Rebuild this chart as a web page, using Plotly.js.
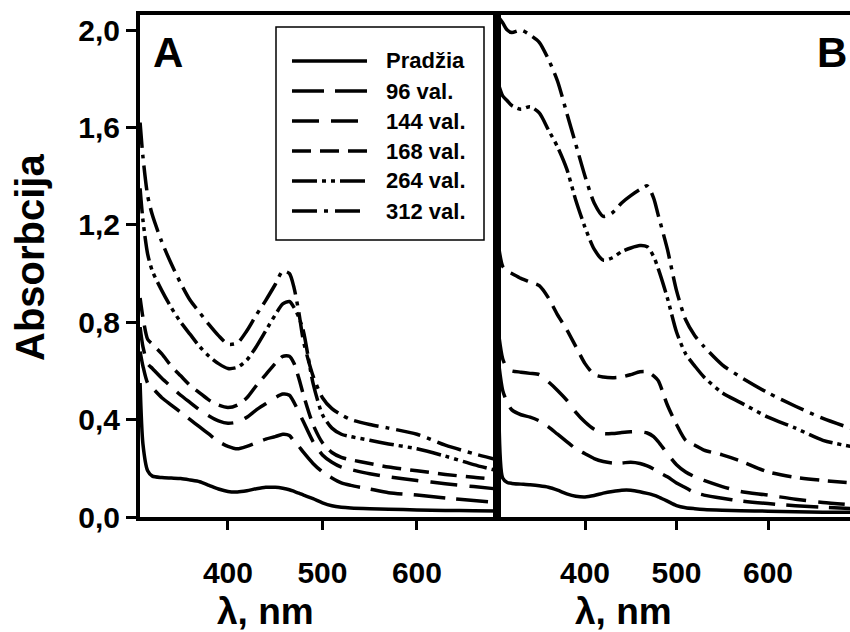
<!DOCTYPE html>
<html>
<head>
<meta charset="utf-8">
<script src="https://cdn.plot.ly/plotly-3.0.1.min.js"></script>
<style>html,body{margin:0;padding:0;background:#fff;}#chart{width:850px;height:632px;}</style>
</head>
<body>
<div id="chart"></div>
<script>
// ---- Data ----
var seriesNames = ["Pradžia", "96 val.", "144 val.", "168 val.", "264 val.", "312 val."];

// Panel A
var wlA = [307, 310, 315, 320, 330, 340, 350, 360, 370, 380, 390, 400, 410, 420, 430, 440, 450, 458, 465, 470, 475, 480, 490, 500, 510, 520, 530, 550, 570, 600, 630, 660, 685];
var pradziaA = [0.55, 0.30, 0.19, 0.168, 0.162, 0.16, 0.158, 0.152, 0.145, 0.13, 0.115, 0.105, 0.103, 0.108, 0.116, 0.122, 0.122, 0.118, 0.112, 0.105, 0.098, 0.09, 0.075, 0.058, 0.046, 0.04, 0.037, 0.034, 0.032, 0.029, 0.027, 0.026, 0.025];
var v96A = [0.68, 0.62, 0.55, 0.53, 0.49, 0.46, 0.43, 0.40, 0.37, 0.34, 0.31, 0.29, 0.28, 0.29, 0.305, 0.32, 0.33, 0.34, 0.335, 0.31, 0.29, 0.265, 0.22, 0.185, 0.16, 0.14, 0.13, 0.115, 0.10, 0.09, 0.078, 0.068, 0.06];
var v144A = [0.78, 0.70, 0.63, 0.61, 0.57, 0.535, 0.50, 0.47, 0.44, 0.415, 0.395, 0.385, 0.39, 0.41, 0.44, 0.465, 0.49, 0.505, 0.50, 0.47, 0.43, 0.39, 0.31, 0.255, 0.225, 0.205, 0.195, 0.178, 0.165, 0.15, 0.137, 0.125, 0.115];
var v168A = [0.90, 0.82, 0.73, 0.71, 0.67, 0.62, 0.58, 0.54, 0.51, 0.48, 0.46, 0.45, 0.46, 0.49, 0.54, 0.585, 0.63, 0.66, 0.66, 0.63, 0.57, 0.50, 0.38, 0.305, 0.265, 0.245, 0.235, 0.22, 0.205, 0.19, 0.175, 0.163, 0.155];
var v264A = [1.35, 1.22, 1.08, 1.01, 0.93, 0.86, 0.80, 0.75, 0.70, 0.66, 0.63, 0.61, 0.615, 0.645, 0.70, 0.765, 0.83, 0.875, 0.885, 0.86, 0.82, 0.76, 0.55, 0.42, 0.365, 0.34, 0.33, 0.315, 0.30, 0.28, 0.25, 0.215, 0.19];
var v312A = [1.62, 1.48, 1.32, 1.24, 1.13, 1.04, 0.96, 0.89, 0.84, 0.79, 0.745, 0.71, 0.715, 0.765, 0.83, 0.89, 0.955, 1.01, 1.00, 0.94, 0.84, 0.72, 0.58, 0.49, 0.445, 0.42, 0.40, 0.38, 0.365, 0.34, 0.295, 0.26, 0.235];

// Panel B
var wlB = [306, 310, 315, 320, 330, 340, 350, 360, 370, 380, 390, 400, 410, 420, 430, 440, 450, 460, 468, 475, 480, 490, 500, 510, 520, 530, 550, 570, 600, 630, 660, 690];
var pradziaB = [0.40, 0.16, 0.142, 0.138, 0.135, 0.132, 0.128, 0.122, 0.11, 0.095, 0.085, 0.082, 0.088, 0.098, 0.105, 0.11, 0.11, 0.104, 0.097, 0.09, 0.083, 0.065, 0.047, 0.038, 0.034, 0.031, 0.028, 0.026, 0.024, 0.022, 0.02, 0.02];
var v96B = [0.62, 0.52, 0.47, 0.44, 0.42, 0.41, 0.395, 0.37, 0.34, 0.31, 0.28, 0.26, 0.24, 0.228, 0.222, 0.222, 0.225, 0.22, 0.21, 0.197, 0.185, 0.165, 0.14, 0.12, 0.10, 0.09, 0.077, 0.066, 0.055, 0.046, 0.04, 0.035];
var v144B = [0.74, 0.65, 0.61, 0.60, 0.595, 0.59, 0.585, 0.555, 0.52, 0.48, 0.43, 0.39, 0.36, 0.343, 0.343, 0.347, 0.35, 0.35, 0.345, 0.33, 0.31, 0.26, 0.215, 0.185, 0.165, 0.15, 0.125, 0.105, 0.09, 0.073, 0.06, 0.05];
var v168B = [1.10, 1.03, 1.01, 1.00, 0.98, 0.965, 0.95, 0.90, 0.83, 0.77, 0.70, 0.63, 0.585, 0.575, 0.572, 0.575, 0.585, 0.597, 0.597, 0.58, 0.56, 0.46, 0.38, 0.315, 0.295, 0.275, 0.255, 0.23, 0.185, 0.163, 0.15, 0.14];
var v264B = [1.77, 1.73, 1.71, 1.69, 1.675, 1.685, 1.66, 1.59, 1.52, 1.43, 1.30, 1.19, 1.10, 1.055, 1.065, 1.09, 1.105, 1.115, 1.11, 1.07, 1.02, 0.90, 0.76, 0.67, 0.62, 0.575, 0.51, 0.47, 0.41, 0.365, 0.315, 0.29];
var v312B = [2.05, 2.03, 2.00, 1.99, 2.00, 1.98, 1.95, 1.88, 1.79, 1.66, 1.53, 1.40, 1.29, 1.235, 1.25, 1.29, 1.32, 1.345, 1.36, 1.31, 1.24, 1.10, 0.93, 0.81, 0.745, 0.70, 0.625, 0.575, 0.51, 0.455, 0.405, 0.365];

var yTickVals = [0, 0.4, 0.8, 1.2, 1.6, 2.0];
var yTickText = ["0,0", "0,4", "0,8", "1,2", "1,6", "2,0"];
var xTickVals = [400, 500, 600];
var xTickText = ["400", "500", "600"];

// ---- Styles ----
var dashes = ["solid", "32px,11px", "27px,12px", "19px,9px", "25px,5px,4px,5px,4px,5px", "25px,7px,4px,7px"];
var seriesA = [pradziaA, v96A, v144A, v168A, v264A, v312A];
var seriesB = [pradziaB, v96B, v144B, v168B, v264B, v312B];

var W = 850, H = 632;
function px(x) { return x / W; }
function py(y) { return (H - y) / H; }

var traces = [];
for (var i = 0; i < seriesNames.length; i++) {
  traces.push({
    x: wlA, y: seriesA[i], type: 'scatter', mode: 'lines', name: seriesNames[i],
    xaxis: 'x', yaxis: 'y', showlegend: false,
    line: {color: '#000', width: 3.5, dash: dashes[i], shape: 'spline', smoothing: 0.7}
  });
  traces.push({
    x: wlB, y: seriesB[i], type: 'scatter', mode: 'lines', name: seriesNames[i],
    xaxis: 'x2', yaxis: 'y2', showlegend: false,
    line: {color: '#000', width: 3.5, dash: dashes[i], shape: 'spline', smoothing: 0.7}
  });
}

var fontFam = 'Liberation Sans, Arial, sans-serif';
var tickFont = {family: fontFam, size: 30, color: '#000', weight: 'bold'};

var xDomA = [px(140), px(497)];
var xDomB = [px(497), 1];
var yDom = [py(517), py(15)];

var shapes = [];
var annotations = [];
// custom legend box
shapes.push({type: 'rect', xref: 'paper', yref: 'paper', x0: px(276), x1: px(484), y0: py(240), y1: py(27),
  line: {color: '#000', width: 1.5}, fillcolor: 'rgba(0,0,0,0)'});
var legendSampleLen = [75, 75, 66, 75, 73, 68];
for (var k = 0; k < seriesNames.length; k++) {
  var yy = 61 + 30 * k;
  shapes.push({type: 'line', xref: 'paper', yref: 'paper', x0: px(292), x1: px(292 + legendSampleLen[k]), y0: py(yy), y1: py(yy),
    line: {color: '#000', width: 3.5, dash: dashes[k]}});
  annotations.push({xref: 'paper', yref: 'paper', x: px(384), y: py(yy), xanchor: 'left', yanchor: 'middle',
    text: seriesNames[k], showarrow: false, font: {family: fontFam, size: 22, color: '#000', weight: 'bold'}});
}
// titles & panel labels
annotations.push({xref: 'paper', yref: 'paper', x: px(30), y: py(258), text: 'Absorbcija', textangle: -90,
  showarrow: false, xanchor: 'center', yanchor: 'middle', font: {family: fontFam, size: 40, color: '#000', weight: 'bold'}});
annotations.push({xref: 'paper', yref: 'paper', x: px(265), y: py(611), text: 'λ, nm',
  showarrow: false, xanchor: 'center', yanchor: 'middle', font: {family: fontFam, size: 37, color: '#000', weight: 'bold'}});
annotations.push({xref: 'paper', yref: 'paper', x: px(623), y: py(611), text: 'λ, nm',
  showarrow: false, xanchor: 'center', yanchor: 'middle', font: {family: fontFam, size: 37, color: '#000', weight: 'bold'}});
annotations.push({xref: 'paper', yref: 'paper', x: px(168), y: py(52), text: 'A',
  showarrow: false, xanchor: 'center', yanchor: 'middle', font: {family: fontFam, size: 42, color: '#000', weight: 'bold'}});
annotations.push({xref: 'paper', yref: 'paper', x: px(832), y: py(52), text: 'B',
  showarrow: false, xanchor: 'center', yanchor: 'middle', font: {family: fontFam, size: 42, color: '#000', weight: 'bold'}});

var layout = {
  width: W, height: H,
  margin: {l: 0, r: 0, t: 0, b: 0},
  paper_bgcolor: '#fff', plot_bgcolor: '#fff',
  showlegend: false,
  xaxis: {domain: xDomA, range: [306.9, 684.7], anchor: 'y', showline: true, linewidth: 4, linecolor: '#000', mirror: true,
    ticks: 'outside', ticklen: 9, tickwidth: 3, tickcolor: '#000', tickvals: xTickVals, ticktext: xTickText,
    tickfont: tickFont, ticklabelstandoff: 17, showgrid: false, zeroline: false, fixedrange: true},
  yaxis: {domain: yDom, range: [0, 2.062], anchor: 'x', showline: true, linewidth: 4, linecolor: '#000', mirror: true,
    ticks: 'outside', ticklen: 10, tickwidth: 3, tickcolor: '#000', tickvals: yTickVals, ticktext: yTickText,
    tickfont: tickFont, ticklabelstandoff: 0, showgrid: false, zeroline: false, fixedrange: true},
  xaxis2: {domain: xDomB, range: [303.8, 689.6], anchor: 'y2', showline: true, linewidth: 4, linecolor: '#000', mirror: true,
    ticks: 'outside', ticklen: 9, tickwidth: 3, tickcolor: '#000', tickvals: xTickVals, ticktext: xTickText,
    tickfont: tickFont, ticklabelstandoff: 17, showgrid: false, zeroline: false, fixedrange: true},
  yaxis2: {domain: yDom, range: [0, 2.062], anchor: 'x2', showline: true, linewidth: 4, linecolor: '#000', mirror: false,
    ticks: '', showticklabels: false, showgrid: false, zeroline: false, fixedrange: true},
  shapes: shapes,
  annotations: annotations
};

Plotly.newPlot('chart', traces, layout, {staticPlot: true, displayModeBar: false});
</script>
</body>
</html>
